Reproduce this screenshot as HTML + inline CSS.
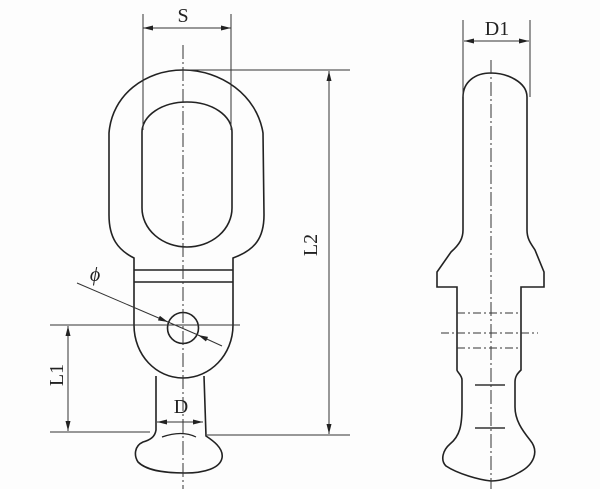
<!DOCTYPE html>
<html><head><style>body{margin:0;background:#fff}svg{display:block}</style></head><body>
<svg width="600" height="489" viewBox="0 0 600 489" xmlns="http://www.w3.org/2000/svg">
<rect width="600" height="489" fill="#fdfdfd"/>
<defs>
<marker id="a" markerWidth="10" markerHeight="6" refX="10" refY="3" orient="auto" markerUnits="userSpaceOnUse"><path d="M0,0.5 L10,3 L0,5.5 Z" fill="#222"/></marker>
</defs>
<g fill="none" stroke="#222" stroke-width="1.6">
<path d="M134,258 C118,250 109,238 109,215 L109,133 C112,95 145,70 183,70 C221,70 257,95 263,133 L264,215 C264,238 255,250 233,258 L233,325 C233,355 210,378 183,378 C156,378 134,355 134,325 Z"/>
<path d="M142,132 A45,30 0 0 1 232,132 L232,208 A45,39 0 0 1 142,208 Z"/>
<line x1="134" y1="270" x2="233" y2="270"/>
<line x1="134" y1="282" x2="233" y2="282"/>
<circle cx="183" cy="328" r="15.5"/>
<path d="M156,376 L156,430 C155,437 150,440 143,442 C134,446 134,456 138,462 C148,472 170,473 185,473 C205,473 220,468 222,458 C224,448 212,440 206,436 L204,376"/>
<path d="M162,437 Q182,430 196,437" stroke-width="1.2"/>
<path d="M463,97 C463,82 475,73 491,73 C507,73 527,82 527,97 L527,230 C527,240 532,245 535,250 L544,272 L544,287 L521,287 L521,370 C518,373 515,376 515,382 L515,407 C515,420 522,430 530,440 C540,452 533,465 520,472 C510,478 500,481 491,481 C480,480 458,474 446,466 C440,460 443,450 450,444 C460,436 462,425 462,407 L462,380 C462,375 457,372 457,370 L457,287 L437,287 L437,272 L451,252 C460,244 463,238 463,230 Z"/>
</g>
<g stroke="#333" stroke-width="1" fill="none">
<line x1="183" y1="45" x2="183" y2="489" stroke-dasharray="14,3,2,3"/>
<line x1="491" y1="60" x2="491" y2="489" stroke-dasharray="14,3,2,3"/>
<line x1="143" y1="14" x2="143" y2="130"/>
<line x1="231" y1="14" x2="231" y2="130"/>
<line x1="183" y1="28" x2="143" y2="28" marker-end="url(#a)"/>
<line x1="183" y1="28" x2="231" y2="28" marker-end="url(#a)"/>
<line x1="183" y1="70" x2="350" y2="70"/>
<line x1="207" y1="435" x2="350" y2="435"/>
<line x1="329" y1="240" x2="329" y2="71" marker-end="url(#a)"/>
<line x1="329" y1="240" x2="329" y2="434" marker-end="url(#a)"/>
<line x1="50" y1="325" x2="240" y2="325"/>
<line x1="50" y1="432" x2="150" y2="432"/>
<line x1="68" y1="380" x2="68" y2="326" marker-end="url(#a)"/>
<line x1="68" y1="380" x2="68" y2="431" marker-end="url(#a)"/>
<line x1="181" y1="422" x2="157" y2="422" marker-end="url(#a)"/>
<line x1="181" y1="422" x2="203" y2="422" marker-end="url(#a)"/>
<line x1="77" y1="283" x2="168" y2="322" marker-end="url(#a)"/>
<line x1="222" y1="346" x2="198" y2="335" marker-end="url(#a)"/>
<line x1="168" y1="322" x2="198" y2="335"/>
<line x1="463" y1="20" x2="463" y2="97"/>
<line x1="530" y1="20" x2="530" y2="97"/>
<line x1="497" y1="41" x2="464" y2="41" marker-end="url(#a)"/>
<line x1="497" y1="41" x2="529" y2="41" marker-end="url(#a)"/>
<line x1="457" y1="313" x2="521" y2="313" stroke-dasharray="8,3,2,3"/>
<line x1="441" y1="333" x2="538" y2="333" stroke-dasharray="8,3,2,3"/>
<line x1="457" y1="348" x2="521" y2="348" stroke-dasharray="8,3,2,3"/>
<line x1="475" y1="385" x2="505" y2="385" stroke-width="1.5"/>
<line x1="475" y1="428" x2="505" y2="428" stroke-width="1.5"/>
</g>
<g font-family="Liberation Serif, serif" font-size="20" fill="#222" text-anchor="middle">
<text x="183" y="22">S</text>
<text x="497" y="35">D1</text>
<text x="181" y="413">D</text>
<text x="95" y="281" font-style="italic">ϕ</text>
<text transform="translate(317,245) rotate(-90)">L2</text>
<text transform="translate(63,375) rotate(-90)">L1</text>
</g>
</svg>
</body></html>
